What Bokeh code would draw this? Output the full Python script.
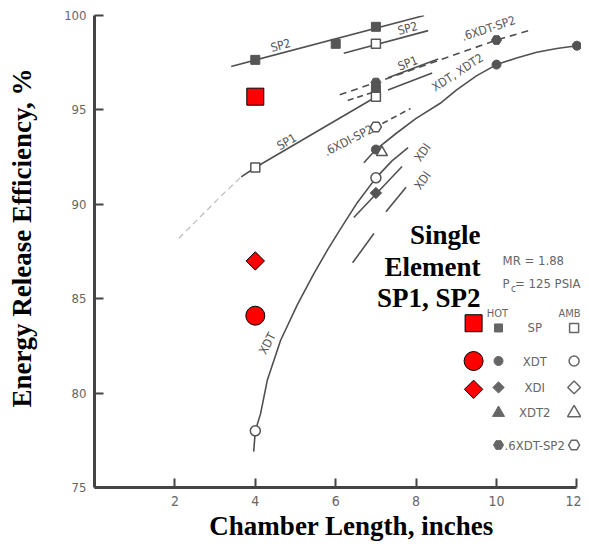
import math
from bokeh.plotting import figure
from bokeh.models import Range1d, FixedTicker
from bokeh.core.properties import value
from bokeh.embed import file_html
from bokeh.resources import INLINE

NARROW = "'Liberation Sans Narrow', 'DejaVu Sans Condensed', 'Arial Narrow', sans-serif"
SERIF = "'Liberation Serif', 'Times New Roman', serif"
INK = "#505050"

# ---------------- axes ----------------
x_ticks = [2, 4, 6, 8, 10, 12]
y_ticks = [75, 80, 85, 90, 95, 100]

# ---------------- scanned data points ----------------
sp_hot_x = [4, 6, 7, 7]
sp_hot_y = [97.65, 98.5, 99.4, 96.1]
sp_amb_x = [4, 7, 7]
sp_amb_y = [91.95, 98.5, 95.7]
xdt_hot_x = [7, 10, 12]
xdt_hot_y = [92.9, 97.4, 98.4]
xdt_amb_x = [4, 7]
xdt_amb_y = [78.0, 91.4]
xdi_hot_x = [7]
xdi_hot_y = [90.6]
xdt2_amb_x = [7.15]
xdt2_amb_y = [92.75]
x6_hot_x = [7, 10]
x6_hot_y = [96.45, 98.7]
x6_amb_x = [7]
x6_amb_y = [94.1]

# ---------------- single element overlay (red) ----------------
single_sp_x, single_sp_y = [4], [95.7]
single_xdt_x, single_xdt_y = [4], [84.1]
single_xdi_x, single_xdi_y = [4], [87.0]

# ---------------- faired curves ----------------
sp2_hot_cx = [3.4, 8.2]
sp2_hot_cy = [97.3, 100.0]
sp2_amb_cx = [6.2, 8.3]
sp2_amb_cy = [98.0, 99.2]
sp1_amb_cx = [3.65, 4.0, 7.05]
sp1_amb_cy = [91.45, 91.95, 95.75]
sp1_amb_ext_x = [2.1, 3.2, 3.65]
sp1_amb_ext_y = [88.2, 90.55, 91.45]
sp1_hot_right_x = [7.3, 8.55]
sp1_hot_right_y = [96.7, 97.7]
sp1_amb_right_x = [7.3, 8.4]
sp1_amb_right_y = [96.05, 96.95]
sp_hot_dash_x = [6.3, 6.95]
sp_hot_dash_y = [95.5, 95.95]
x6_hot_cx = [6.1, 7.0, 10.0, 10.8]
x6_hot_cy = [95.8, 96.45, 98.7, 99.2]
x6_amb_cx = [7.16, 7.86]
x6_amb_cy = [94.28, 95.07]
xdt_hot_cx = [6.7, 7.0, 7.5, 8.0, 8.6, 9.0, 9.5, 10.0, 10.5, 11.0, 11.5, 12.0, 12.2]
xdt_hot_cy = [92.2, 92.9, 93.75, 94.55, 95.35, 96.05, 96.8, 97.4, 97.75, 98.05, 98.25, 98.4, 98.43]
xdt_amb_cx = [3.96, 4.0, 4.13, 4.3, 4.63, 5.05, 5.45, 5.8, 6.12, 6.54, 7.0, 7.4, 7.8]
xdt_amb_cy = [76.9, 78.0, 78.9, 80.7, 82.8, 84.7, 86.3, 87.6, 88.7, 90.1, 91.4, 92.3, 93.0]
xdi_hot_cx = [6.45, 7.65]
xdi_hot_cy = [89.3, 92.0]
xdi_amb_segs_x = [[6.42, 6.95], [7.25, 7.75]]
xdi_amb_segs_y = [[86.9, 88.45], [89.6, 90.9]]

# ---------------- curve labels ----------------
lab_text = ["SP2", "SP2", "SP1", "SP1", ".6XDT-SP2", "XDT, XDT2", ".6XDI-SP2", "XDI", "XDI", "XDT"]
lab_x = [4.63, 7.79, 4.78, 7.79, 9.8, 9.03, 6.32, 8.16, 8.16, 4.3]
lab_y = [98.41, 99.31, 93.3, 97.46, 99.31, 96.98, 93.38, 92.74, 91.26, 82.63]
lab_deg = [15, 15, 30, 21, 18, 33, 27, 55, 55, 62]

# ---------------- legend ----------------
leg_names = ["SP", "XDT", "XDI", "XDT2", ".6XDT-SP2"]
leg_rows_y = [83.45, 81.7, 80.3, 78.95, 77.25]
leg_hot_markers = ["square", "circle", "diamond", "triangle", "hex"]
red_leg_y = [83.7, 81.7, 80.2]

p = figure(width=581, height=546, x_range=Range1d(0, 12.114), y_range=Range1d(75, 100),
           output_backend="svg", toolbar_location=None,
           min_border_left=94, min_border_right=0, min_border_top=15, min_border_bottom=59)
p.xgrid.visible = False
p.ygrid.visible = False
p.outline_line_color = None
p.background_fill_color = "white"
p.border_fill_color = "white"

p.xaxis.ticker = FixedTicker(ticks=x_ticks)
p.yaxis.ticker = FixedTicker(ticks=y_ticks)
p.xaxis.bounds = (0, 12)
p.yaxis.bounds = (75, 100)
for ax in (p.xaxis[0], p.yaxis[0]):
    ax.axis_line_color = "#444444"
    ax.axis_line_width = 3
    ax.major_tick_in = 9
    ax.major_tick_out = 0
    ax.major_tick_line_width = 2
    ax.major_tick_line_color = "#444444"
    ax.minor_tick_line_color = None
    ax.major_label_text_font = NARROW
    ax.major_label_text_color = "#666666"
    ax.axis_label_text_font = SERIF
    ax.axis_label_text_font_style = "bold"
    ax.axis_label_text_font_size = "27px"
    ax.axis_label_text_color = "black"
p.xaxis.major_label_text_font_size = "14px"
p.yaxis.major_label_text_font_size = "13px"
p.xaxis.major_label_standoff = 8
p.yaxis.major_label_standoff = 8
p.xaxis.axis_label = "\u00a0\u00a0\u00a0\u00a0Chamber Length, inches"
p.xaxis.axis_label_standoff = 2
p.yaxis.axis_label = "\u00a0\u00a0\u00a0\u00a0Energy Release Efficiency, %"
p.yaxis.axis_label_standoff = 24

LW = 1.6
# curves
p.line(sp2_hot_cx, sp2_hot_cy, line_color=INK, line_width=LW)
p.line(sp2_amb_cx, sp2_amb_cy, line_color=INK, line_width=LW)
p.line(sp1_amb_cx, sp1_amb_cy, line_color=INK, line_width=LW)
p.line(sp1_amb_ext_x, sp1_amb_ext_y, line_color="#bbbbbb", line_width=1.2, line_dash="6 4")
p.line(sp1_hot_right_x, sp1_hot_right_y, line_color=INK, line_width=LW)
p.line(sp1_amb_right_x, sp1_amb_right_y, line_color=INK, line_width=LW)
p.line(sp_hot_dash_x, sp_hot_dash_y, line_color=INK, line_width=LW, line_dash="6 4")
p.line(x6_hot_cx, x6_hot_cy, line_color=INK, line_width=LW, line_dash="7 5")
p.line(x6_amb_cx, x6_amb_cy, line_color=INK, line_width=LW, line_dash="6 4")
p.line(xdt_hot_cx, xdt_hot_cy, line_color=INK, line_width=LW)
p.line(xdt_amb_cx, xdt_amb_cy, line_color=INK, line_width=LW)
p.line(xdi_hot_cx, xdi_hot_cy, line_color=INK, line_width=LW)
p.multi_line(xdi_amb_segs_x, xdi_amb_segs_y, line_color=INK, line_width=LW)

# scanned markers
HOT = dict(fill_color="#555555", line_color="#555555")
AMB = dict(fill_color="white", line_color="#555555", line_width=1.5)
p.scatter(sp_hot_x, sp_hot_y, marker="square", size=9, **HOT)
p.scatter(sp_amb_x, sp_amb_y, marker="square", size=9, **AMB)
p.scatter(xdt_hot_x, xdt_hot_y, marker="circle", size=9, **HOT)
p.scatter(xdt_amb_x, xdt_amb_y, marker="circle", size=10, **AMB)
p.scatter(xdi_hot_x, xdi_hot_y, marker="square", angle=math.pi / 4, size=8, **HOT)
p.scatter(xdt2_amb_x, xdt2_amb_y, marker="triangle", size=11, **AMB)
p.scatter(x6_hot_x, x6_hot_y, marker="hex", size=10, **HOT)
p.scatter(x6_amb_x, x6_amb_y, marker="hex", size=11, **AMB)

# curve labels
p.text(lab_x, lab_y, text=lab_text, angle=[math.radians(a) for a in lab_deg],
       text_font=value(NARROW), text_font_size="12px", text_color="#555555",
       text_align="center", text_baseline="middle")

# red overlay
RED = dict(fill_color="#ff0000", line_color="black", line_width=1)
p.scatter(single_sp_x, single_sp_y, marker="square", size=17, **RED)
p.scatter(single_xdt_x, single_xdt_y, marker="circle", size=19, **RED)
p.scatter(single_xdi_x, single_xdi_y, marker="square", angle=math.pi / 4, size=13, **RED)

# overlay legend text
p.text([9.6, 9.6, 9.6], [88.35, 86.7, 85.06], text=["Single", "Element", "SP1, SP2"],
       text_font=value(SERIF), text_font_style="bold", text_font_size="27px",
       text_color="black", text_align="right", text_baseline="middle")
p.scatter([9.43], [red_leg_y[0]], marker="square", size=17, **RED)
p.scatter([9.43], [red_leg_y[1]], marker="circle", size=19, **RED)
p.scatter([9.43], [red_leg_y[2]], marker="square", angle=math.pi / 4, size=13, **RED)

# scanned legend
GT = dict(text_font=value(NARROW), text_font_size="13px", text_color="#666666", text_baseline="middle")
p.text([10.15], [87.0], text=["MR = 1.88"], text_align="left", **GT)
p.text([10.15], [85.8], text=["P"], text_align="left", **GT)
p.text([10.36], [85.55], text=["c"], text_align="left", text_font=value(NARROW), text_font_size="10px",
       text_color="#666666", text_baseline="middle")
p.text([12.09], [85.8], text=["= 125 PSIA"], text_align="right", **GT)
p.text([10.02], [84.2], text=["HOT"], text_align="center",
       text_font=value(NARROW), text_font_size="11px", text_color="#666666", text_baseline="middle")
p.text([12.09], [84.2], text=["AMB"], text_align="right",
       text_font=value(NARROW), text_font_size="11px", text_color="#666666", text_baseline="middle")
p.text([10.95] * 5, leg_rows_y, text=leg_names, text_align="center", **GT)
hot_sizes = [8, 9, 8, 12, 10]
amb_sizes = [9, 10, 9, 13, 11]
for m, y, hs, a_s in zip(leg_hot_markers, leg_rows_y, hot_sizes, amb_sizes):
    ang = math.pi / 4 if m == "diamond" else 0
    mk = "square" if m == "diamond" else m
    p.scatter([10.05], [y], marker=mk, angle=ang, size=hs, fill_color="#666666", line_color="#666666")
    p.scatter([11.93], [y], marker=mk, angle=ang, size=a_s, fill_color="white", line_color="#666666", line_width=1.5)

open("out.html", "w").write(file_html(p, INLINE))
